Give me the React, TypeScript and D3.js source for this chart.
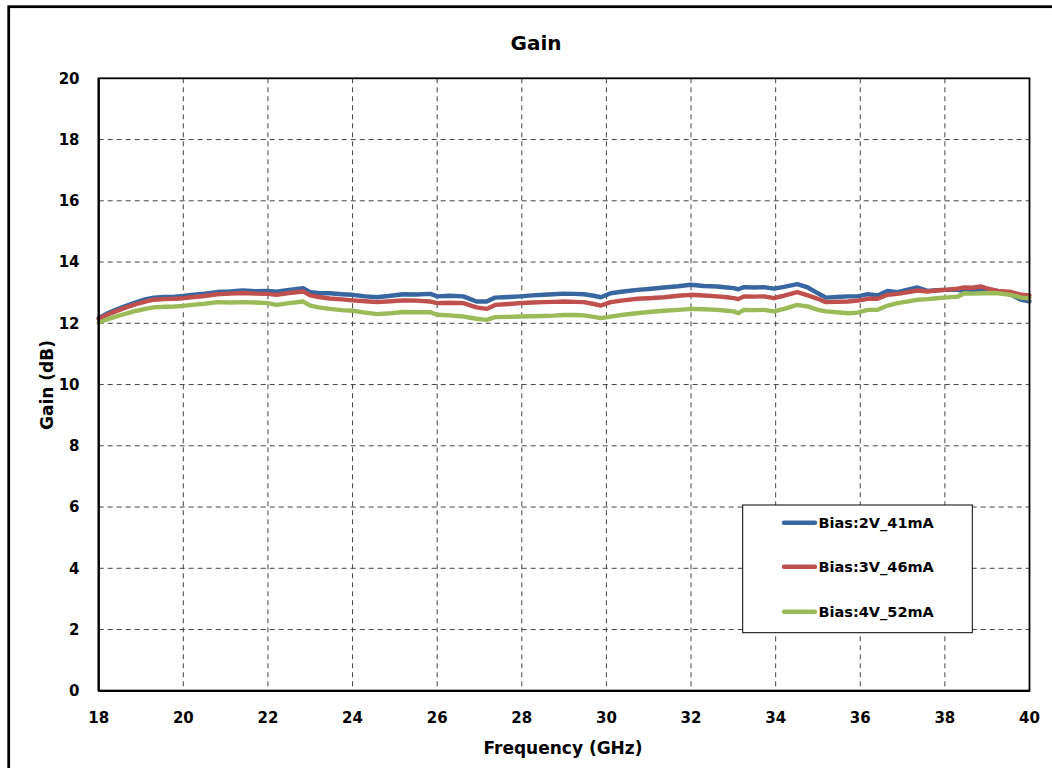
import React from "react";
import * as d3 from "d3";

const freq = [18.0,18.2,18.4,18.65,18.9,19.1,19.3,19.55,19.8,20.0,20.2,20.5,20.8,21.1,21.4,21.7,22.0,22.2,22.5,22.83,23.0,23.2,23.46,23.75,24.0,24.3,24.58,24.9,25.2,25.5,25.84,26.0,26.3,26.62,26.8,26.93,27.17,27.37,27.7,27.96,28.25,28.51,28.75,29.0,29.25,29.47,29.7,29.87,30.1,30.4,30.73,31.0,31.36,31.7,31.99,32.3,32.62,32.85,33.01,33.12,33.25,33.5,33.72,33.96,34.2,34.51,34.76,35.0,35.19,35.45,35.71,35.94,36.18,36.41,36.65,36.88,37.1,37.35,37.59,37.8,37.99,38.3,38.46,38.65,38.86,39.05,39.25,39.57,39.8,40.0];

const bias2V = [12.17,12.32,12.44,12.57,12.69,12.78,12.84,12.86,12.87,12.89,12.93,12.97,13.02,13.04,13.07,13.05,13.06,13.03,13.09,13.15,13.02,12.99,12.98,12.95,12.93,12.88,12.85,12.90,12.95,12.94,12.96,12.88,12.90,12.88,12.78,12.71,12.71,12.84,12.86,12.88,12.91,12.93,12.95,12.97,12.96,12.95,12.90,12.85,12.98,13.04,13.09,13.12,13.17,13.21,13.26,13.22,13.20,13.17,13.15,13.11,13.18,13.17,13.18,13.13,13.19,13.28,13.17,12.98,12.84,12.86,12.88,12.88,12.95,12.91,13.06,13.02,13.09,13.17,13.06,13.08,13.09,13.09,13.05,13.08,13.06,13.04,13.06,12.93,12.77,12.72];

const bias3V = [12.14,12.28,12.39,12.52,12.63,12.71,12.77,12.79,12.80,12.82,12.85,12.89,12.95,12.97,12.99,12.97,12.96,12.93,12.99,13.04,12.91,12.86,12.81,12.78,12.75,12.72,12.69,12.72,12.75,12.74,12.71,12.66,12.67,12.66,12.58,12.52,12.47,12.60,12.63,12.66,12.68,12.69,12.70,12.71,12.70,12.69,12.63,12.58,12.69,12.75,12.80,12.82,12.85,12.90,12.93,12.91,12.88,12.85,12.82,12.79,12.88,12.87,12.88,12.82,12.90,13.02,12.91,12.80,12.69,12.70,12.71,12.74,12.80,12.80,12.93,12.96,13.01,13.07,13.04,13.07,13.09,13.13,13.17,13.16,13.20,13.12,13.06,13.02,12.93,12.91];

const bias4V = [12.02,12.13,12.22,12.32,12.41,12.47,12.52,12.54,12.55,12.57,12.60,12.64,12.69,12.68,12.69,12.68,12.66,12.60,12.66,12.71,12.58,12.52,12.47,12.43,12.41,12.35,12.30,12.33,12.37,12.36,12.36,12.28,12.26,12.22,12.18,12.15,12.11,12.20,12.21,12.22,12.23,12.24,12.25,12.27,12.27,12.26,12.21,12.17,12.22,12.28,12.33,12.37,12.41,12.44,12.47,12.46,12.44,12.41,12.39,12.33,12.44,12.43,12.44,12.39,12.47,12.60,12.55,12.44,12.39,12.36,12.33,12.35,12.44,12.44,12.58,12.66,12.71,12.77,12.79,12.82,12.84,12.87,12.98,12.97,12.98,12.99,12.98,12.93,12.84,12.82];

const seriesNames = ["Bias:2V_41mA", "Bias:3V_46mA", "Bias:4V_52mA"];
const seriesColors = ["#3866A0", "#C0504D", "#9BBB59"];
const xTicks = [18, 20, 22, 24, 26, 28, 30, 32, 34, 36, 38, 40];
const yTicks = [0, 2, 4, 6, 8, 10, 12, 14, 16, 18, 20];

const FONT = "'DejaVu Sans', Verdana, sans-serif";

export default function App() {
  const W = 1052, H = 768;
  const x0 = 98.7, x1 = 1029.5, y0 = 78.3, y1 = 690.8;
  const x = d3.scaleLinear().domain([18, 40]).range([x0, x1]);
  const y = d3.scaleLinear().domain([0, 20]).range([y1, y0]);
  const allSeries = [bias2V, bias3V, bias4V];
  const line = d3.line<number>()
    .x((_, i) => x(freq[i]))
    .y((d) => y(d))
    .curve(d3.curveLinear);

  const legX = 742.7, legY = 505, legW = 229.6, legH = 127.7;
  const legRows = [522.7, 566.7, 611.7];

  return (
    <svg width={W} height={H} style={{ position: "absolute", left: 0, top: 0, background: "#fff" }} fontFamily={FONT}>
      <rect x={0} y={0} width={W} height={H} fill="#fff" />
      <rect x={8.7} y={6.7} width={1100} height={800} fill="none" stroke="#000" strokeWidth={2.75} />
      <text x={536} y={50} textAnchor="middle" fontSize={20} fontWeight="bold">Gain</text>

      {/* grid */}
      {xTicks.slice(1, -1).map((t) => (
        <line key={"gx" + t} x1={x(t)} x2={x(t)} y1={y0} y2={y1} stroke="#444" strokeWidth={1} strokeDasharray="5,4" />
      ))}
      {yTicks.slice(1, -1).map((t) => (
        <line key={"gy" + t} x1={x0} x2={x1} y1={y(t)} y2={y(t)} stroke="#444" strokeWidth={1} strokeDasharray="5,4" />
      ))}

      {/* series */}
      {allSeries.map((s, i) => (
        <path key={"s" + i} d={line(s) || ""} fill="none" stroke={seriesColors[i]} strokeWidth={4.4} strokeLinejoin="round" strokeLinecap="round" />
      ))}

      {/* plot border */}
      <rect x={x0} y={y0} width={x1 - x0} height={y1 - y0} fill="none" stroke="#000" strokeWidth={1.8} />
      <line x1={x0} x2={x0} y1={y0} y2={y1} stroke="#000" strokeWidth={2.2} />
      <line x1={x0} x2={x1} y1={y1} y2={y1} stroke="#000" strokeWidth={2.2} />

      {/* y tick labels */}
      {yTicks.map((t) => (
        <text key={"yl" + t} x={79.5} y={y(t)} dy="0.36em" textAnchor="end" fontSize={15} fontWeight="bold">{t}</text>
      ))}
      {/* x tick labels */}
      {xTicks.map((t) => (
        <text key={"xl" + t} x={x(t)} y={717.5} dy="0.36em" textAnchor="middle" fontSize={15} fontWeight="bold">{t}</text>
      ))}

      <text x={563} y={754} textAnchor="middle" fontSize={17} fontWeight="bold">Frequency (GHz)</text>
      <text transform="translate(53,385) rotate(-90)" textAnchor="middle" fontSize={17} fontWeight="bold">Gain (dB)</text>

      {/* legend */}
      <rect x={legX} y={legY} width={legW} height={legH} fill="#fff" stroke="#000" strokeWidth={1} />
      {seriesNames.map((n, i) => (
        <g key={"lg" + i}>
          <line x1={784} x2={815} y1={legRows[i]} y2={legRows[i]} stroke={seriesColors[i]} strokeWidth={4.4} strokeLinecap="round" />
          <text x={818.5} y={legRows[i]} dy="0.36em" fontSize={14.5} fontWeight="bold">{n}</text>
        </g>
      ))}
    </svg>
  );
}
